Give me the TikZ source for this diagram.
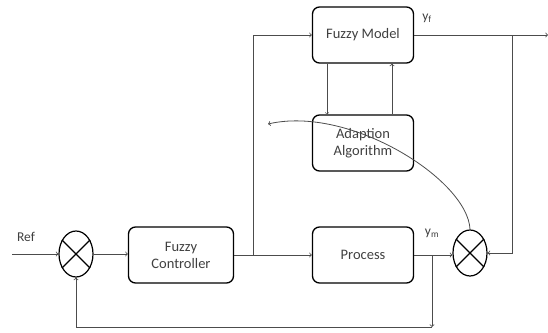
\documentclass[tikz,border=0pt]{standalone}
\usepackage{fontspec}
\setmainfont{Carlito}
\usetikzlibrary{calc,shapes.geometric}

\begin{document}
\begin{tikzpicture}[x=1pt, y=-1pt,
	block/.style={draw=black, line width=1.3pt, rounded corners=7pt, minimum width=101pt, minimum height=56pt, align=center, font=\fontsize{14.5}{17}\selectfont, text=black!75},
	summer/.style={draw=black, line width=1.2pt, ellipse, minimum width=34pt, minimum height=46pt, inner sep=0pt},
	wire/.style={draw=black!70, line width=0.8pt},
	lbl/.style={font=\fontsize{13.5}{16}\selectfont, text=black!75}]
	\useasboundingbox (0,0) rectangle (548,332);
	% blocks
	\node[summer] (sumref) at (76,254) {};
	\node[block, minimum width=105pt] (ctrl) at (181,255) {Fuzzy\\Controller};
	\node[block] (model) at (363,35) {Fuzzy Model};
	\node[block] (adapt) at (363,143) {Adaption\\Algorithm};
	\node[block] (plant) at (363,255) {Process};
	\node[summer] (sumerr) at (470,253) {};
	\foreach \s in {sumref, sumerr}{
		\draw[line width=1.2pt] (\s.45) -- (\s.225);
		\draw[line width=1.2pt] (\s.135) -- (\s.315);
		};
	% labels
	\node[lbl] (ref) at (26,237) {Ref};
	\node[lbl] (yf) at (427,18) {y\textsubscript{f}};
	\node[lbl] (ym) at (432,233) {y\textsubscript{m}};
	% points
	\coordinate (in) at (12,254);
	\coordinate (split) at (253,255);
	\coordinate (out) at (548,35);
	\coordinate (tap) at (512,35);
	\coordinate (meas) at (432,255);
	\coordinate (low) at (432,327);
	\coordinate (tip) at (268,124);
	% connections
	\draw[wire, ->] (in) -- (sumref.west);
	\draw[wire, ->] (sumref.east) -- (ctrl.west |- sumref.east);
	\draw[wire, ->] (ctrl.east) -- (plant.west);
	\draw[wire, ->] (split) |- (model.west);
	\draw[wire, ->] (model.east) -- (out);
	\draw[wire, ->] (tap) |- (sumerr.east);
	\draw[wire, ->, line width=0.5pt] (model.south -| 327,0) -- (adapt.north -| 327,0);
	\draw[wire, ->] (adapt.north -| 392,0) -- (model.south -| 392,0);
	\draw[wire, ->] (plant.east) -- (sumerr.west |- plant.east);
	\draw[wire, ->] (meas) -- (low);
	\draw[wire, ->] (low) -| (sumref.south);
	\draw[wire, ->] (sumerr.north) .. controls (468,180) and (350,105) .. (tip);
\end{tikzpicture}
\end{document}
